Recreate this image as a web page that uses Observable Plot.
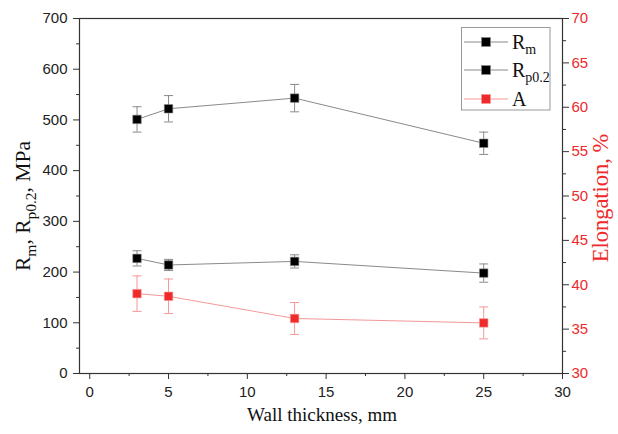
<!DOCTYPE html>
<html>
<head>
<meta charset="utf-8">
<script src="https://cdn.jsdelivr.net/npm/d3@7"></script>
<script src="https://cdn.jsdelivr.net/npm/@observablehq/plot@0.6"></script>
<style>
  html, body { margin: 0; padding: 0; background: #fff; }
  #chart svg { display: block; }
</style>
</head>
<body>
<div id="chart"></div>
<script>
// ---- data ----
const thickness = [3, 5, 13, 25];
const rm = [501, 522, 543, 454];
const rmErr = [25, 26, 27, 22];
const rp = [227, 214, 221, 198];
const rpErr = [15, 11, 13, 18];
const elong = [39.0, 38.7, 36.2, 35.7];
const elongErr = [2.0, 1.95, 1.8, 1.8];

const xTicks = [0, 5, 10, 15, 20, 25, 30];
const xMinor = [2.5, 7.5, 12.5, 17.5, 22.5, 27.5];
const yTicks = [0, 100, 200, 300, 400, 500, 600, 700];
const yMinor = [50, 150, 250, 350, 450, 550, 650];
const rightTicks = [30, 35, 40, 45, 50, 55, 60, 65, 70];
const rightMinor = [32.5, 37.5, 42.5, 47.5, 52.5, 57.5, 62.5, 67.5];

const RED = "#ee2a2a";
const RED_LINE = "#f49898";
const GRAY = "#8a8a8a";
const AX = "#333";

// elongation (30..70) mapped onto left scale (0..700)
const toLeft = a => (a - 30) * 700 / 40;
const fromLeft = v => 30 + v * 40 / 700;

const rows = [];
thickness.forEach((t, i) => {
  rows.push({series: "Rm", x: t, y: rm[i], e: rmErr[i]});
  rows.push({series: "Rp", x: t, y: rp[i], e: rpErr[i]});
  rows.push({series: "A", x: t, y: toLeft(elong[i]), e: elongErr[i] * 700 / 40});
});
const rmRows = rows.filter(d => d.series === "Rm");
const rpRows = rows.filter(d => d.series === "Rp");
const aRows = rows.filter(d => d.series === "A");

const cap = { draw(ctx) { ctx.moveTo(-4.5, 0); ctx.lineTo(4.5, 0); } };

function seriesMarks(data, lineColor, errColor, fillColor) {
  return [
    Plot.line(data, {x: "x", y: "y", stroke: lineColor, strokeWidth: 1}),
    Plot.ruleX(data, {x: "x", y1: d => d.y - d.e, y2: d => d.y + d.e, stroke: errColor, strokeWidth: 1}),
    Plot.dot(data, {x: "x", y: d => d.y + d.e, symbol: cap, r: 1, stroke: errColor, fill: "none", strokeWidth: 1}),
    Plot.dot(data, {x: "x", y: d => d.y - d.e, symbol: cap, r: 1, stroke: errColor, fill: "none", strokeWidth: 1}),
    Plot.dot(data, {x: "x", y: "y", symbol: "square", r: 4.8, fill: fillColor, stroke: lineColor, strokeWidth: 0.6})
  ];
}

const plot = Plot.plot({
  width: 618,
  height: 434,
  marginLeft: 79,
  marginRight: 56,
  marginTop: 18,
  marginBottom: 61,
  style: {fontFamily: "Liberation Sans, Arial, sans-serif", fontSize: "15px", background: "#fff"},
  x: {domain: [-0.65, 30], label: null},
  y: {domain: [0, 700], label: null},
  marks: [
    ...seriesMarks(rmRows, GRAY, GRAY, "#000"),
    ...seriesMarks(rpRows, GRAY, GRAY, "#000"),
    ...seriesMarks(aRows, RED_LINE, RED_LINE, RED),
    Plot.frame({stroke: AX, strokeWidth: 1.2}),
    Plot.axisX(xTicks, {anchor: "bottom", tickSize: 6, tickPadding: 7, fontSize: 15, stroke: AX, fill: "#222", label: null}),
    Plot.axisX(xMinor, {anchor: "bottom", tickSize: 3, tickFormat: () => "", stroke: AX, label: null}),
    Plot.axisY(yTicks, {anchor: "left", tickSize: 6, tickPadding: 6, fontSize: 15, stroke: AX, fill: "#222", label: null}),
    Plot.axisY(yMinor, {anchor: "left", tickSize: 3, tickFormat: () => "", stroke: AX, label: null}),
    Plot.axisY(rightTicks.map(toLeft), {anchor: "right", tickSize: 6, tickPadding: 3, fontSize: 15, stroke: AX, fill: RED,
      tickFormat: d => String(Math.round(fromLeft(d))), label: null}),
    Plot.axisY(rightMinor.map(toLeft), {anchor: "right", tickSize: 3, tickFormat: () => "", stroke: AX, label: null})
  ]
});

document.getElementById("chart").appendChild(plot);

// ---- titles & legend (real SVG text with subscripts) ----
const svg = d3.select(plot);
const SERIF = "Liberation Serif, Times New Roman, serif";

function addSub(textSel, parts, subSize, shift) {
  let lowered = false;
  parts.forEach(p => {
    const ts = textSel.append("tspan").text(p.t);
    if (p.sub) {
      ts.attr("font-size", subSize).attr("dy", lowered ? 0 : shift);
      lowered = true;
    } else if (lowered) {
      ts.attr("dy", -shift);
      lowered = false;
    }
  });
}

// bottom title
svg.append("text")
  .attr("x", 322).attr("y", 421)
  .attr("text-anchor", "middle")
  .attr("font-family", SERIF).attr("font-size", 19).attr("fill", "#111")
  .text("Wall thickness, mm");

// left title
const lt = svg.append("text")
  .attr("transform", "translate(30,206) rotate(-90)")
  .attr("text-anchor", "middle")
  .attr("font-family", SERIF).attr("font-size", 21.5).attr("fill", "#111");
addSub(lt, [{t: "R"}, {t: "m", sub: true}, {t: ", R"}, {t: "p0.2", sub: true}, {t: ", MPa"}], 15.5, 5.5);

// right title
svg.append("text")
  .attr("transform", "translate(608,198) rotate(-90)")
  .attr("text-anchor", "middle")
  .attr("font-family", SERIF).attr("font-size", 22.5).attr("fill", RED)
  .text("Elongation, %");

// legend
const lg = svg.append("g");
lg.append("rect").attr("x", 461.5).attr("y", 27.5).attr("width", 88.5).attr("height", 82.5)
  .attr("fill", "#fff").attr("stroke", "#999").attr("stroke-width", 1);
const legendItems = [
  {parts: [{t: "R"}, {t: "m", sub: true}], line: GRAY, fill: "#000", y: 42},
  {parts: [{t: "R"}, {t: "p0.2", sub: true}], line: GRAY, fill: "#000", y: 70},
  {parts: [{t: "A"}], line: RED_LINE, fill: RED, y: 99}
];
legendItems.forEach(it => {
  lg.append("line").attr("x1", 464).attr("x2", 508).attr("y1", it.y).attr("y2", it.y)
    .attr("stroke", it.line).attr("stroke-width", 1);
  lg.append("rect").attr("x", 481.5).attr("y", it.y - 4.5).attr("width", 9).attr("height", 9)
    .attr("fill", it.fill).attr("stroke", it.line).attr("stroke-width", 0.6);
  const t = lg.append("text").attr("x", 512).attr("y", it.y + 6.5)
    .attr("text-anchor", "start")
    .attr("font-family", SERIF).attr("font-size", 20).attr("fill", "#111");
  addSub(t, it.parts, 14, 5);
});
</script>
</body>
</html>
